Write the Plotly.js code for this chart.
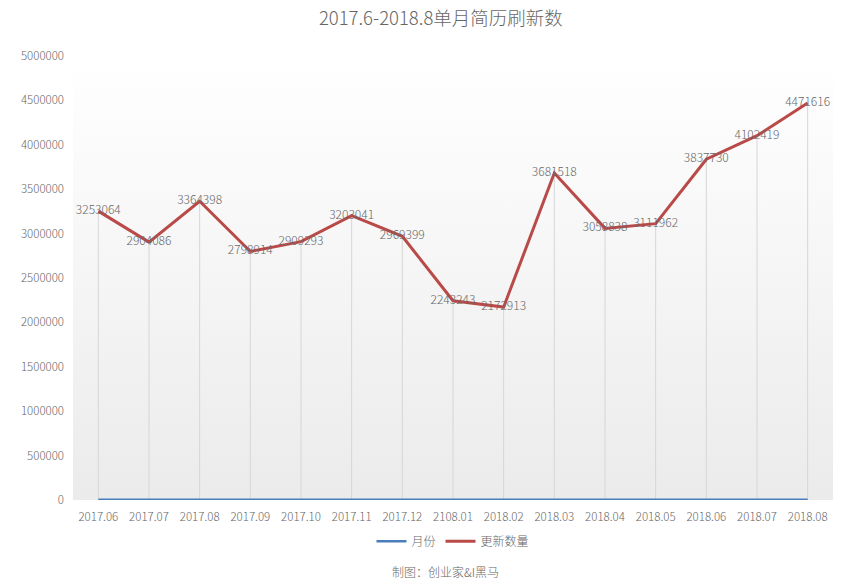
<!DOCTYPE html>
<html>
<head>
<meta charset="utf-8">
<script src="https://cdn.plot.ly/plotly-3.0.1.min.js"></script>
<style>html,body{margin:0;padding:0;background:#fff;}#chart{width:856px;height:587px;}</style>
</head>
<body>
<div id="chart"></div>
<script>
const months = ['2017.06','2017.07','2017.08','2017.09','2017.10','2017.11','2017.12','2108.01','2018.02','2018.03','2018.04','2018.05','2018.06','2018.07','2018.08'];
const monthValues = [2017.06,2017.07,2017.08,2017.09,2017.10,2017.11,2017.12,2108.01,2018.02,2018.03,2018.04,2018.05,2018.06,2018.07,2018.08];
const refreshCounts = [3253064,2904086,3364398,2798914,2909293,3203041,2969399,2243243,2172913,3681518,3058838,3111962,3837730,4102419,4471616];
const yTicks = [0,500000,1000000,1500000,2000000,2500000,3000000,3500000,4000000,4500000,5000000];

const font = '"Noto Sans CJK SC", "Noto Sans", sans-serif';
const gray = '#666666';

const gradSvg = '<svg xmlns="http://www.w3.org/2000/svg" width="10" height="100" preserveAspectRatio="none"><defs><linearGradient id="g" x1="0" y1="0" x2="0" y2="1"><stop offset="0" stop-color="#ffffff"/><stop offset="1" stop-color="#ebebeb"/></linearGradient></defs><rect width="10" height="100" fill="url(#g)"/></svg>';
const gradUri = 'data:image/svg+xml;base64,' + btoa(gradSvg);

const traces = [
  {
    x: months, y: refreshCounts, type: 'scatter', mode: 'markers',
    marker: {size: 1, color: 'rgba(0,0,0,0)'},
    error_y: {type: 'data', symmetric: false, array: refreshCounts.map(() => 0), arrayminus: refreshCounts, width: 0, thickness: 1, color: '#d6d6d6'},
    showlegend: false, hoverinfo: 'skip'
  },
  {
    x: months, y: monthValues, type: 'scatter', mode: 'lines', name: '月份',
    line: {color: '#4a7ebb', width: 2.5}
  },
  {
    x: months, y: refreshCounts, type: 'scatter', mode: 'lines+text', name: '更新数量',
    line: {color: '#b94a48', width: 3},
    text: refreshCounts.map(String), textposition: 'middle center',
    textfont: {family: font, size: 12, color: gray, weight: 300}
  }
];

const layout = {
  width: 856, height: 587,
  margin: {l: 73, r: 23, t: 56, b: 87},
  paper_bgcolor: '#ffffff', plot_bgcolor: 'rgba(0,0,0,0)',
  font: {family: font, color: gray, size: 12, weight: 300},
  title: {text: '2017.6-2018.8单月简历刷新数', font: {family: font, size: 18.5, color: gray, weight: 300}, x: 0.515, xanchor: 'center', y: 0.968, yanchor: 'middle'},
  xaxis: {
    type: 'category', range: [-0.5, 14.5], showgrid: false, zeroline: false,
    showline: false, ticks: '', ticklabelstandoff: 8, tickfont: {family: font, size: 11.5, color: gray, weight: 300}, fixedrange: true
  },
  yaxis: {
    range: [0, 5000000], tickvals: yTicks, ticktext: yTicks.map(String),
    showgrid: false, zeroline: false, showline: false, ticks: '', ticklabelstandoff: 8,
    tickfont: {family: font, size: 11.5, color: gray, weight: 300}, fixedrange: true
  },
  images: [{source: gradUri, xref: 'paper', yref: 'paper', x: 0, y: 1, sizex: 1, sizey: 1, sizing: 'stretch', layer: 'below', xanchor: 'left', yanchor: 'top'}],
  legend: {orientation: 'h', x: 0.5, xanchor: 'center', y: -0.06, yanchor: 'top', font: {family: font, size: 12, color: gray, weight: 300}, itemwidth: 30},
  annotations: [{text: '制图：创业家&I黑马', xref: 'paper', yref: 'paper', x: 0.49, y: -0.16, xanchor: 'center', yanchor: 'middle', showarrow: false, font: {family: font, size: 12, color: gray, weight: 300}}]
};

Plotly.newPlot('chart', traces, layout, {displayModeBar: false, staticPlot: true});
</script>
</body>
</html>
